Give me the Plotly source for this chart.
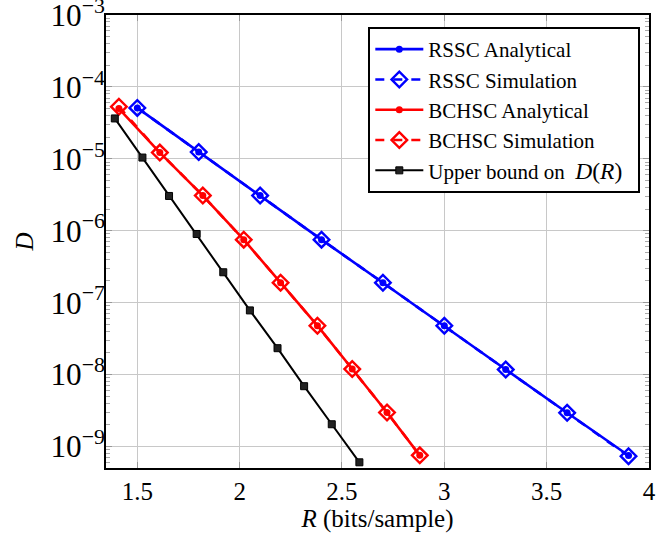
import plotly.graph_objects as go

# Data
R_rssc = [1.5, 1.8, 2.1, 2.4, 2.7, 3.0, 3.3, 3.6, 3.9]
D_rssc_analytical = [5.1e-5, 1.24e-5, 3.08e-6, 7.5e-7, 1.89e-7, 4.77e-8, 1.17e-8, 2.93e-9, 7.45e-10]
D_rssc_simulation = [5.1e-5, 1.24e-5, 3.08e-6, 7.5e-7, 1.89e-7, 4.77e-8, 1.17e-8, 2.93e-9, 7.3e-10]

R_bchsc = [1.41, 1.61, 1.82, 2.02, 2.2, 2.38, 2.55, 2.72, 2.88]
D_bchsc_analytical = [5.0e-5, 1.22e-5, 3.08e-6, 7.5e-7, 1.89e-7, 4.77e-8, 1.19e-8, 2.96e-9, 7.5e-10]
D_bchsc_simulation = [5.3e-5, 1.22e-5, 3.08e-6, 7.5e-7, 1.89e-7, 4.77e-8, 1.19e-8, 2.96e-9, 7.5e-10]

R_bound = [1.39, 1.525, 1.655, 1.79, 1.92, 2.05, 2.185, 2.315, 2.45, 2.585]
D_bound = [3.64e-5, 1.04e-5, 3.04e-6, 9.0e-7, 2.64e-7, 7.78e-8, 2.32e-8, 6.87e-9, 2.03e-9, 6.0e-10]

x_ticks = [1.5, 2, 2.5, 3, 3.5, 4]
x_ticklabels = ["1.5", "2", "2.5", "3", "3.5", "4"]

FONT = "Liberation Serif"
BLUE = "#0000ff"
RED = "#ff0000"

fig = go.Figure()

fig.add_trace(go.Scatter(
    x=R_rssc, y=D_rssc_analytical, name="RSSC Analytical", mode="lines+markers",
    line=dict(color=BLUE, width=2.6), marker=dict(symbol="circle", size=7, color=BLUE)))
fig.add_trace(go.Scatter(
    x=R_rssc, y=D_rssc_simulation, name="RSSC Simulation", mode="lines+markers",
    line=dict(color=BLUE, width=2.6, dash="dash"),
    marker=dict(symbol="diamond-open", size=12, color=BLUE, line=dict(width=2.4, color=BLUE))))
fig.add_trace(go.Scatter(
    x=R_bchsc, y=D_bchsc_analytical, name="BCHSC Analytical", mode="lines+markers",
    line=dict(color=RED, width=2.6), marker=dict(symbol="circle", size=7, color=RED)))
fig.add_trace(go.Scatter(
    x=R_bchsc, y=D_bchsc_simulation, name="BCHSC Simulation", mode="lines+markers",
    line=dict(color=RED, width=2.6, dash="dash"),
    marker=dict(symbol="diamond-open", size=12, color=RED, line=dict(width=2.4, color=RED))))
fig.add_trace(go.Scatter(
    x=R_bound, y=D_bound,
    name="Upper bound on&nbsp; <span style=\"font-size:23.5px\"><i>D</i>(<i>R</i>)</span>&nbsp;&nbsp;",
    mode="lines+markers",
    line=dict(color="black", width=2), marker=dict(symbol="square", size=7, color="#222222",
                                                   line=dict(width=1, color="black"))))

fig.update_layout(
    width=667, height=533,
    margin=dict(l=106, r=18, t=15, b=65, autoexpand=False),
    paper_bgcolor="white", plot_bgcolor="white",
    font=dict(family=FONT, size=22, color="black"),
    showlegend=True,
    legend=dict(
        x=0.984, y=0.9735, xanchor="right", yanchor="top",
        bgcolor="white", bordercolor="black", borderwidth=2,
        font=dict(family=FONT, size=21, color="black"),
        tracegroupgap=0, itemwidth=48,
    ),
)

fig.update_xaxes(
    range=[1.347, 4], tickmode="array", tickvals=x_ticks, ticktext=x_ticklabels,
    showgrid=True, gridcolor="#c8c8c8", gridwidth=1,
    showline=True, linecolor="black", linewidth=2, mirror="allticks",
    ticks="inside", ticklen=6, tickcolor="#999999",
    tickfont=dict(family=FONT, size=25), ticklabeloverflow="allow",
    title=dict(text="<i>R</i> (bits/sample)", font=dict(family=FONT, size=25), standoff=6),
    zeroline=False, automargin=False,
)
fig.update_yaxes(
    type="log", range=[-9.301, -3], dtick=1,
    exponentformat="power", showexponent="all",
    showgrid=True, gridcolor="#c8c8c8", gridwidth=1,
    showline=True, linecolor="black", linewidth=2, mirror="allticks",
    ticks="inside", ticklen=6, tickcolor="#999999",
    minor=dict(ticks="inside", ticklen=4, tickcolor="#aaaaaa", dtick="D1", showgrid=False),
    tickfont=dict(family=FONT, size=25), ticklabeloverflow="allow", ticklabelstandoff=-6,
    title=dict(text="<i>D</i>", font=dict(family=FONT, size=25), standoff=10),
    zeroline=False, automargin=False,
)

# remove the browser's default 8px page margin so the figure fills the window
fig.write_html("out.html", config={"displayModeBar": False},
               post_script="document.body.style.margin='0';")
